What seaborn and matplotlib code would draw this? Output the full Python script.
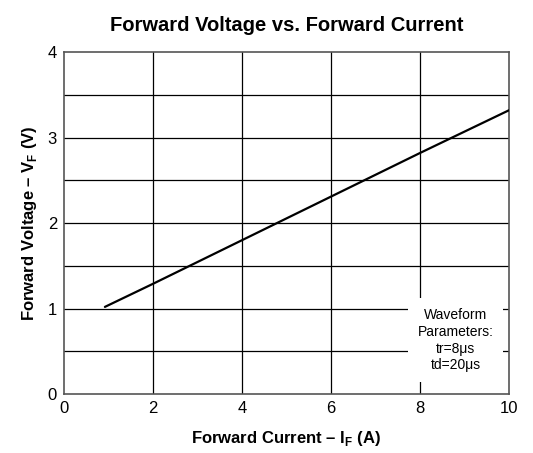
import matplotlib
matplotlib.use('Agg')
import matplotlib.pyplot as plt
import numpy as np
import pandas as pd
import seaborn as sns

# values
current = [0.92, 2.0, 4.0, 6.0, 8.0, 10.0]
voltage = [1.02, 1.29, 1.80, 2.31, 2.82, 3.32]

x_ticks = [0, 2, 4, 6, 8, 10]
y_ticks = [0, 1, 2, 3, 4]
y_grid = [0.5, 1, 1.5, 2, 2.5, 3, 3.5]

note = 'Waveform\nParameters:\ntr=8\u03bcs\ntd=20\u03bcs'

sns.set_style('white')
plt.rcParams['font.family'] = ['Liberation Sans', 'DejaVu Sans']
plt.rcParams['mathtext.fontset'] = 'custom'
plt.rcParams['mathtext.rm'] = 'Liberation Sans'
plt.rcParams['mathtext.bf'] = 'Liberation Sans:bold'
plt.rcParams['text.color'] = 'black'
plt.rcParams['axes.labelcolor'] = 'black'
plt.rcParams['xtick.color'] = 'black'
plt.rcParams['ytick.color'] = 'black'

df = pd.DataFrame({'I': current, 'V': voltage})

fig = plt.figure(figsize=(5.33, 4.53), dpi=100)
ax = fig.add_axes([0.12, 0.13, 0.835, 0.755])

for x in x_ticks[1:-1]:
    ax.axvline(x, color='black', lw=0.9, zorder=1)
for y in y_grid:
    ax.axhline(y, color='black', lw=0.9, zorder=1)

sns.lineplot(data=df, x='I', y='V', color='black', lw=1.6, ax=ax, zorder=3)

ax.text(8.8, 0.63, note, ha='center', va='center', fontsize=10, zorder=4,
        linespacing=1.25,
        bbox=dict(facecolor='white', edgecolor='none', pad=7))

ax.set_xlim(0, 10)
ax.set_ylim(0, 4)
ax.set_xticks(x_ticks)
ax.set_yticks(y_ticks)
ax.tick_params(length=0, labelsize=12, pad=5)
for s in ax.spines.values():
    s.set_color('#555555')
    s.set_linewidth(1.2)

ax.set_title('Forward Voltage vs. Forward Current', fontsize=14.5,
             fontweight='bold', pad=15)
ax.set_xlabel('Forward Current \u2013 I$_\\mathbf{F}$ (A)', fontsize=12,
              fontweight='bold', labelpad=9)
ax.set_ylabel('Forward Voltage \u2013 V$_\\mathbf{F}$ (V)', fontsize=12,
              fontweight='bold', labelpad=6)

fig.savefig('out.png', dpi=100)
